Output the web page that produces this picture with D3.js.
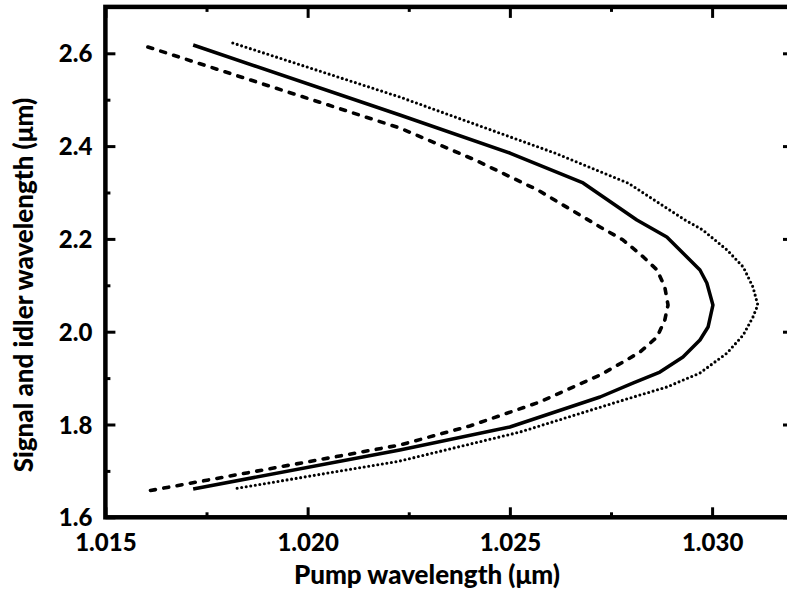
<!DOCTYPE html>
<html>
<head>
<meta charset="utf-8">
<script src="https://cdn.jsdelivr.net/npm/d3@7"></script>
<style>
  html, body { margin: 0; padding: 0; background: #fff; }
  svg { display: block; }
  text { font-family: Lato, "Open Sans", sans-serif; font-weight: 900; fill: #000; }
</style>
</head>
<body>
<svg id="chart" width="787" height="599"></svg>
<script>
// Signal/idler wavelength (μm) against pump wavelength (μm) for three cases.
const solidSignal = [2.6179, 2.4670, 2.3851, 2.3205, 2.2407, 2.2041, 2.1330, 2.1050, 2.0575, 2.0101, 1.9821, 1.9455, 1.9131, 1.8894, 1.8593, 1.7946, 1.7450, 1.6610];
const solidPump   = [1.01717, 1.02228, 1.02500, 1.02681, 1.02814, 1.02888, 1.02970, 1.02987, 1.03002, 1.02990, 1.02970, 1.02928, 1.02871, 1.02804, 1.02723, 1.02500, 1.02228, 1.01717];

const dashedSignal = [2.6136, 2.4390, 2.3700, 2.3054, 2.2257, 2.1976, 2.1610, 2.1330, 2.0963, 2.0575, 2.0252, 1.9886, 1.9563, 1.9347, 1.9067, 1.8485, 1.7968, 1.7558, 1.6567];
const dashedPump   = [1.01605, 1.02228, 1.02414, 1.02569, 1.02723, 1.02780, 1.02830, 1.02864, 1.02883, 1.02891, 1.02883, 1.02864, 1.02822, 1.02780, 1.02723, 1.02574, 1.02401, 1.02228, 1.01605];

const dottedSignal = [2.6222, 2.5058, 2.3851, 2.3205, 2.2407, 2.2192, 2.1761, 2.1394, 2.0963, 2.0575, 2.0317, 1.9929, 1.9541, 1.9110, 1.8808, 1.8571, 1.7838, 1.7213, 1.6610];
const dottedPump   = [1.01815, 1.02228, 1.02611, 1.02792, 1.02933, 1.02977, 1.03037, 1.03077, 1.03101, 1.03113, 1.03101, 1.03077, 1.03037, 1.02970, 1.02888, 1.02797, 1.02525, 1.02228, 1.01815];

const xTicks = [1.015, 1.020, 1.025, 1.030];
const xMinorTicks = [1.0175, 1.0225, 1.0275];
const yTicks = [1.6, 1.8, 2.0, 2.2, 2.4, 2.6];
const yMinorTicks = [1.7, 1.9, 2.1, 2.3, 2.5];

const svg = d3.select("#chart");
const plotLeft = 105.4, plotRight = 793, plotTop = 6.9, plotBottom = 517.3;

const x = d3.scaleLinear().domain([1.015, 1.032]).range([plotLeft, plotRight]);
const y = d3.scaleLinear().domain([1.6, 2.7]).range([plotBottom, plotTop]);

// Curves
const line = d3.line().x(d => x(d[0])).y(d => y(d[1])).curve(d3.curveLinear);
const series = [
  { pump: solidPump, signal: solidSignal, width: 3.5, dash: null, cap: "butt" },
  { pump: dashedPump, signal: dashedSignal, width: 3.6, dash: "5 8.5", cap: "round" },
  { pump: dottedPump, signal: dottedSignal, width: 3.1, dash: "0 4.6", cap: "round" }
];
series.forEach(s => {
  svg.append("path")
    .datum(d3.zip(s.pump, s.signal))
    .attr("d", line)
    .attr("fill", "none")
    .attr("stroke", "#000")
    .attr("stroke-width", s.width)
    .attr("stroke-linecap", s.cap)
    .attr("stroke-linejoin", "round")
    .attr("stroke-dasharray", s.dash);
});

// Axes with inward ticks on all four sides
const tickW = 3;
function axisGroup(axis, transform) {
  const g = svg.append("g").attr("transform", transform).call(axis);
  g.select(".domain").remove();
  g.selectAll(".tick line").attr("stroke", "#000").attr("stroke-width", tickW);
  return g;
}
const fmtX = d3.format(".3f"), fmtY = d3.format(".1f");

const gxB = axisGroup(d3.axisBottom(x).tickValues(xTicks).tickSizeInner(-10).tickSizeOuter(0).tickPadding(17).tickFormat(fmtX), `translate(0,${plotBottom})`);
gxB.selectAll(".tick text").attr("font-size", 24).attr("dy", "0.71em");
axisGroup(d3.axisBottom(x).tickValues(xMinorTicks).tickSize(-5).tickFormat(""), `translate(0,${plotBottom})`);

axisGroup(d3.axisTop(x).tickValues(xTicks).tickSize(-11).tickFormat(""), `translate(0,${plotTop})`);
axisGroup(d3.axisTop(x).tickValues(xMinorTicks).tickSize(-5).tickFormat(""), `translate(0,${plotTop})`);

const gyL = axisGroup(d3.axisLeft(y).tickValues(yTicks).tickSizeInner(-10).tickSizeOuter(0).tickPadding(13).tickFormat(fmtY), `translate(${plotLeft},0)`);
gyL.selectAll(".tick text").attr("font-size", 24).attr("dy", "0.36em");
axisGroup(d3.axisLeft(y).tickValues(yMinorTicks).tickSize(-5).tickFormat(""), `translate(${plotLeft},0)`);

axisGroup(d3.axisRight(y).tickValues(yTicks).tickSize(-10).tickFormat(""), `translate(${plotRight},0)`);
axisGroup(d3.axisRight(y).tickValues(yMinorTicks).tickSize(-5).tickFormat(""), `translate(${plotRight},0)`);

// Frame
svg.append("rect")
  .attr("x", plotLeft).attr("y", plotTop)
  .attr("width", plotRight - plotLeft).attr("height", plotBottom - plotTop)
  .attr("fill", "none").attr("stroke", "#000").attr("stroke-width", 4.5);

svg.selectAll(".tick text").attr("font-family", "Lato, 'Open Sans', sans-serif").attr("font-weight", 900).attr("fill", "#000");

// Axis titles
svg.append("text")
  .attr("x", 427).attr("y", 584)
  .attr("text-anchor", "middle")
  .attr("font-size", 26)
  .text("Pump wavelength (μm)");

svg.append("text")
  .attr("transform", "translate(33,285) rotate(-90)")
  .attr("text-anchor", "middle")
  .attr("font-size", 26)
  .text("Signal and idler wavelength (μm)");
</script>
</body>
</html>
